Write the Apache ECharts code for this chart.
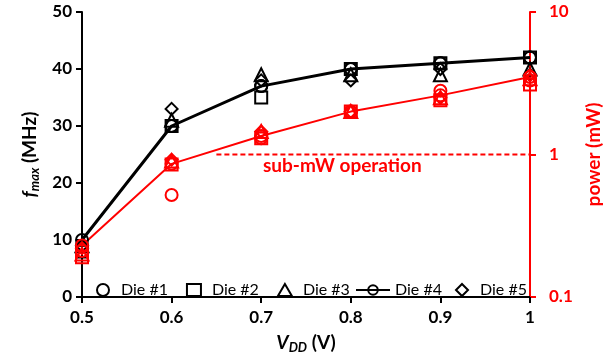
<!DOCTYPE html>
<html>
<head>
<meta charset="utf-8">
<script src="https://cdn.jsdelivr.net/npm/echarts@6/dist/echarts.min.js"></script>
<style>
  html, body { margin: 0; padding: 0; background: #fff; }
  #chart { width: 613px; height: 359px; }
</style>
</head>
<body>
<div id="chart"></div>
<script>
// 电源电压 (V)
const vdd = [0.5, 0.6, 0.7, 0.8, 0.9, 1.0];
const dieNames = ['Die #1', 'Die #2', 'Die #3', 'Die #4', 'Die #5'];

// 最高频率 fmax (MHz)
const fmaxDie1 = [9, 30, 37, 40, 41, 42];
const fmaxDie2 = [8, 30, 35, 40, 41, 42];
const fmaxDie3 = [9, 31, 39, 39, 39, 40];
const fmaxDie4 = [10, 30, 37, 40, 41, 42];
const fmaxDie5 = [9, 33, 38, 38, 40, 39];

// 功耗 (mW)
const powerDie1 = [0.21, 0.52, 1.3, 2.0, 2.8, 3.3];
const powerDie2 = [0.19, 0.85, 1.3, 2.0, 2.4, 3.1];
const powerDie3 = [0.2, 0.9, 1.45, 2.0, 2.5, 3.4];
const powerDie4 = [0.23, 0.86, 1.35, 2.0, 2.6, 3.5];
const powerDie5 = [0.22, 0.92, 1.45, 2.0, 2.5, 3.6];

// sub-mW 虚线
const subMwX = [0.65, 1.0];
const subMwY = [1, 1];

const powerTicks = [0.1, 1, 10];

const FONT = 'Lato';
const diamond = 'path://M0,-1L1,0L0,1L-1,0Z';
const symbols = ['circle', 'rect', 'triangle', 'circle', diamond];
const sizes = [12, 12, 13, 12, 12];

const fmaxAll = [fmaxDie1, fmaxDie2, fmaxDie3, fmaxDie4, fmaxDie5];
const powerAll = [powerDie1, powerDie2, powerDie3, powerDie4, powerDie5];

const zip = (xs, ys) => xs.map((x, i) => [x, ys[i]]);

const chart = echarts.init(document.getElementById('chart'));

const series = [];
// 黑色: fmax
dieNames.forEach((name, i) => {
    const withLine = i === 3;
    series.push({
        name: name,
        type: withLine ? 'line' : 'scatter',
        yAxisIndex: 0,
        data: zip(vdd, fmaxAll[i]),
        symbol: symbols[i],
        symbolSize: sizes[i],
        symbolKeepAspect: true,
        showSymbol: true,
        lineStyle: { color: '#000', width: 3 },
        itemStyle: { color: 'rgba(255,255,255,0)', opacity: 1, borderColor: '#000', borderWidth: 2 },
        z: 3
    });
});
// 红色: power
dieNames.forEach((name, i) => {
    const withLine = i === 3;
    series.push({
        name: name + ' power',
        type: withLine ? 'line' : 'scatter',
        yAxisIndex: 1,
        data: zip(vdd, powerAll[i]),
        symbol: symbols[i],
        symbolSize: sizes[i],
        symbolKeepAspect: true,
        showSymbol: true,
        lineStyle: { color: '#ff0000', width: 2 },
        itemStyle: { color: 'rgba(255,255,255,0)', opacity: 1, borderColor: '#ff0000', borderWidth: 2 },
        z: 3
    });
});
// sub-mW operation
series.push({
    name: 'sub-mW',
    type: 'line',
    yAxisIndex: 1,
    data: zip(subMwX, subMwY),
    symbol: 'none',
    lineStyle: { color: '#ff0000', width: 2, type: [5, 3] },
    z: 2
});

// 图例: 单独分组以保持图标比例
const legendText = { fontFamily: FONT, fontSize: 16, color: '#000', padding: [0, 0, 0, 6] };
const legendBase = { top: 277, itemHeight: 12, textStyle: legendText, itemGap: 18 };

const option = {
    animation: false,
    textStyle: { fontFamily: FONT },
    grid: { left: 82, right: 83, top: 12, bottom: 62, containLabel: false },
    legend: [
        Object.assign({}, legendBase, { data: dieNames.slice(0, 3), left: 91, itemWidth: 14 }),
        Object.assign({}, legendBase, { data: [dieNames[3]], left: 350, itemWidth: 34, textStyle: Object.assign({}, legendText, { padding: [0, 0, 0, 0] }) }),
        Object.assign({}, legendBase, { data: [dieNames[4]], left: 450, itemWidth: 14 })
    ],
    xAxis: {
        type: 'value',
        min: 0.5,
        max: 1,
        interval: 0.1,
        name: '{i|V}{s|DD}{n| (V)}',
        nameLocation: 'middle',
        nameGap: 34,
        nameTextStyle: {
            rich: {
                i: { fontFamily: FONT, fontSize: 19, fontWeight: 'bold', fontStyle: 'italic', color: '#000' },
                s: { fontFamily: FONT, fontSize: 13, fontWeight: 'bold', fontStyle: 'italic', color: '#000', padding: [10, 0, 0, 0] },
                n: { fontFamily: FONT, fontSize: 19, fontWeight: 'bold', color: '#000' }
            }
        },
        axisLine: { onZero: false, lineStyle: { color: '#000', width: 2 } },
        axisTick: { length: 6, lineStyle: { color: '#000', width: 2 } },
        axisLabel: {
            fontFamily: FONT, fontSize: 17, fontWeight: 'bold', color: '#000', margin: 12,
            formatter: v => (Math.abs(v - 1) < 1e-6 ? '1' : v.toFixed(1))
        },
        splitLine: { show: false }
    },
    yAxis: [{
        type: 'value',
        min: 0,
        max: 50,
        interval: 10,
        name: '{i|f}{s|max}{n| (MHz)}',
        nameLocation: 'middle',
        nameGap: 40,
        nameRotate: 90,
        nameTextStyle: {
            rich: {
                i: { fontFamily: FONT, fontSize: 19, fontWeight: 'bold', fontStyle: 'italic', color: '#000' },
                s: { fontFamily: FONT, fontSize: 13, fontWeight: 'bold', fontStyle: 'italic', color: '#000', padding: [10, 0, 0, 0] },
                n: { fontFamily: FONT, fontSize: 19, fontWeight: 'bold', color: '#000' }
            }
        },
        axisLine: { show: true, lineStyle: { color: '#000', width: 2 } },
        axisTick: { show: true, length: 6, lineStyle: { color: '#000', width: 2 } },
        axisLabel: { fontFamily: FONT, fontSize: 17, fontWeight: 'bold', color: '#000', margin: 10 },
        splitLine: { show: false }
    }, {
        type: 'log',
        logBase: 10,
        min: powerTicks[0],
        max: powerTicks[powerTicks.length - 1],
        position: 'right',
        name: 'power (mW)',
        nameLocation: 'middle',
        nameGap: 54,
        nameRotate: 90,
        nameTextStyle: { fontFamily: FONT, fontSize: 19, fontWeight: 'bold', color: '#ff0000' },
        axisLine: { show: true, lineStyle: { color: '#ff0000', width: 2 } },
        axisTick: { show: true, length: 6, lineStyle: { color: '#ff0000', width: 2 } },
        minorTick: { show: false },
        axisLabel: { fontFamily: FONT, fontSize: 17, fontWeight: 'bold', color: '#ff0000', margin: 19 },
        splitLine: { show: false }
    }],
    graphic: [{
        type: 'text',
        left: 263,
        top: 156,
        style: {
            text: 'sub-mW operation',
            fill: '#ff0000',
            font: 'bold 19px ' + FONT
        }
    }],
    series: series
};

chart.setOption(option);
</script>
</body>
</html>
